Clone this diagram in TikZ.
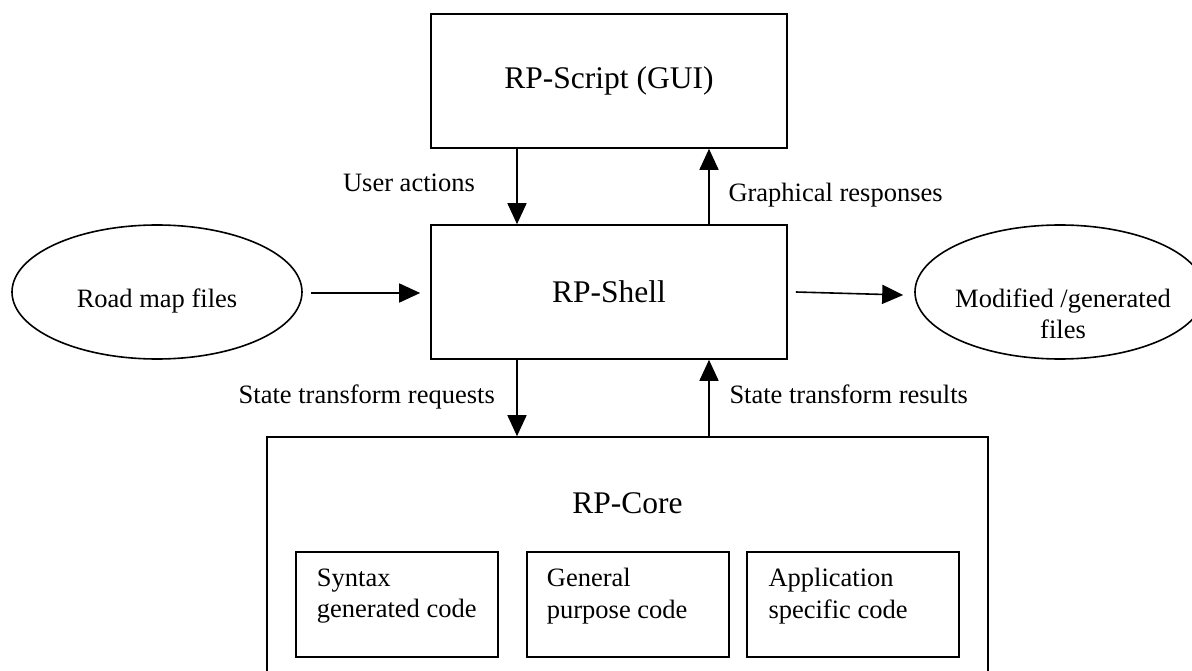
\documentclass[tikz,border=0pt]{standalone}
\usepackage{fontspec}
\setmainfont{Liberation Serif}
\usetikzlibrary{arrows.meta,shapes.geometric}
\tikzset{
  big/.style={font=\fontsize{31.5}{36}\selectfont},
  small/.style={font=\fontsize{26.5}{31.5}\selectfont},
  box/.style={draw, line width=1.6pt, inner sep=0pt},
  oval/.style={draw, ellipse, line width=1.6pt, inner sep=0pt, minimum width=290pt, minimum height=134pt},
  arr/.style={line width=1.6pt, -{Triangle[length=21pt,width=19pt]}},
  lbl/.style={small, inner sep=0pt},
}
\begin{document}
\begin{tikzpicture}[x=1pt,y=-1pt]
\useasboundingbox (0,0) rectangle (1192,671);
\clip (0,0) rectangle (1192,671);
% main boxes
\node[box, big, minimum width=356pt, minimum height=134pt] (gui) at (609,81) {RP-Script (GUI)};
\node[box, big, minimum width=356pt, minimum height=134pt] (shell) at (609,292) {RP-Shell};
\node[box, minimum width=721pt, minimum height=263pt] (core) at (627.5,568.5) {};
\node[big, anchor=base, inner sep=0pt] (coretitle) at (627.5,513) {RP-Core};
% inner boxes
\node[box, minimum width=202pt, minimum height=105pt] (syn) at (397,604.5) {};
\node[box, minimum width=202pt, minimum height=105pt] (gen) at (628,604.5) {};
\node[box, minimum width=212pt, minimum height=105pt] (app) at (853,604.5) {};
\node[small, anchor=north west, align=left, inner sep=0pt] (synt) at (316.7,568.3) {Syntax\\generated code};
\node[small, anchor=north west, align=left, inner sep=0pt] (gent) at (546.7,568.3) {General\\purpose code};
\node[small, anchor=north west, align=left, inner sep=0pt] (appt) at (768.3,568.3) {Application\\specific code};
% ellipses
\node[oval, small, text height=32pt, text depth=0pt] (road) at (157,292) {Road map files};
\node[oval] (mod) at (1060,292) {};
\node[small, anchor=north, align=center, inner sep=0pt] (modt) at (1063,288.6) {Modified /generated\\files};
% connectors
\draw[arr] ([xshift=-92pt]gui.south) -- ([xshift=-92pt]shell.north);
\draw[arr] ([xshift=100pt]shell.north) -- ([xshift=100pt]gui.south);
\draw[arr] ([xshift=-92pt]shell.south) -- ([xshift=-92pt]shell.south |- core.north);
\draw[arr] ([xshift=100pt]shell.south |- core.north) -- ([xshift=100pt]shell.south);
\draw[arr] ([xshift=8pt,yshift=-1pt]road.east) -- ([xshift=-10pt,yshift=-1pt]shell.west);
\draw[arr] ([xshift=8pt]shell.east) -- ([xshift=-11pt,yshift=-3pt]mod.west);
% labels
\node[lbl, anchor=base east] (ual) at (475,192) {User actions};
\node[lbl, anchor=base west] (grl) at (728.3,201.5) {Graphical responses};
\node[lbl, anchor=base east] (rql) at (495,403.3) {State transform requests};
\node[lbl, anchor=base west] (rsl) at (729.3,403.3) {State transform results};
\end{tikzpicture}
\end{document}
